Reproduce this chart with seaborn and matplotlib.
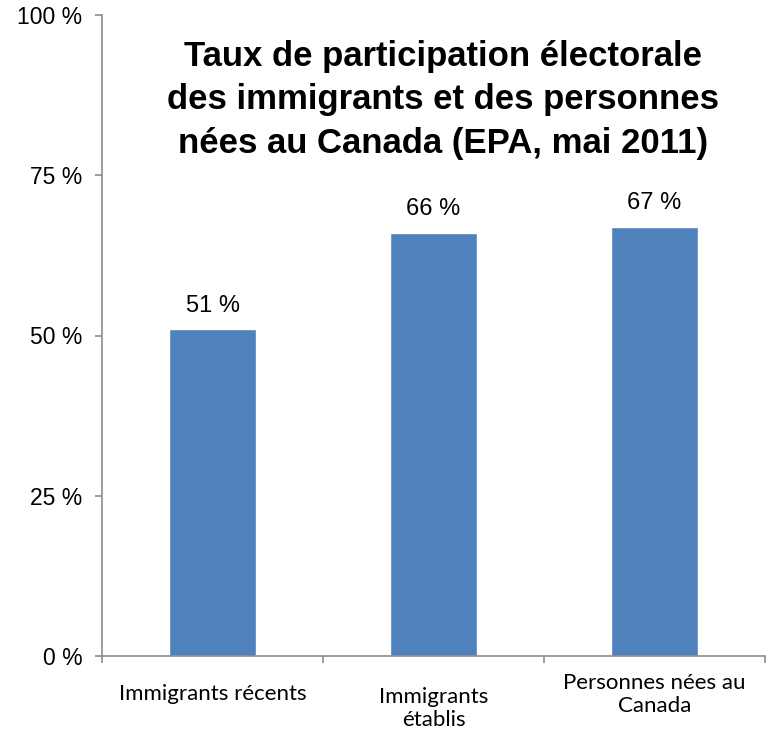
import numpy as np
import pandas as pd
import matplotlib.pyplot as plt
import matplotlib.transforms as mtrans
from matplotlib.ticker import FixedLocator, FuncFormatter
import seaborn as sns

#%%% data
categories = ['Immigrants récents', 'Immigrants\nétablis', 'Personnes nées au\nCanada']
taux = [51, 66, 67]
yticks = [0, 25, 50, 75, 100]
titre = 'Taux de participation électorale\ndes immigrants et des personnes\nnées au Canada (EPA, mai 2011)'

df = pd.DataFrame({'cat': categories, 'taux': taux})

#%%% plot
sns.set_style('white')
plt.rcParams['font.family'] = ['Liberation Sans', 'DejaVu Sans']
plt.rcParams['text.color'] = 'black'
plt.rcParams['xtick.labelcolor'] = 'black'
plt.rcParams['ytick.labelcolor'] = 'black'

fig = plt.figure(figsize=(7.67, 7.34), dpi=100)
ax = fig.add_axes([102/767, 1-656/734, 663/767, 641/734])

sns.barplot(data=df, x='cat', y='taux', color='#4F81BD', saturation=1,
            width=0.39, ax=ax)

ax.set_xlim(-0.5, 2.5)
ax.set_ylim(0, 100)
ax.set_yticks(yticks)
ax.yaxis.set_major_formatter(FuncFormatter(lambda v, p: f'{int(v)} %'))
ax.tick_params(axis='y', direction='out', length=5, width=1.2, color='#8c8c8c',
               labelsize=16.5, pad=9, left=True)
ax.set_xlabel('')
ax.set_ylabel('')

# x ticks between categories
ax.xaxis.set_minor_locator(FixedLocator([-0.5, 0.5, 1.5, 2.5]))
ax.tick_params(axis='x', which='minor', direction='out', length=5, width=1.2,
               color='#8c8c8c', bottom=True)
ax.tick_params(axis='x', which='major', length=0, pad=27)
for lab in ax.get_xticklabels():
    lab.set_fontfamily(['Lato', 'DejaVu Sans'])
    lab.set_fontsize(16)
    lab.set_verticalalignment('center')
    lab.set_linespacing(1.15)
offsets = [0, 15, 1]
for lab, dy in zip(ax.get_xticklabels(), offsets):
    lab.set_transform(lab.get_transform() +
                      mtrans.ScaledTranslation(0, -dy/100, fig.dpi_scale_trans))

for s in ['top', 'right']:
    ax.spines[s].set_visible(False)
for s in ['left', 'bottom']:
    ax.spines[s].set_color('#8c8c8c')
    ax.spines[s].set_linewidth(1.2)

# bar labels
for i, v in enumerate(taux):
    ax.annotate(f'{v} %', (i, v), xytext=(0, 9), textcoords='offset points',
                ha='center', va='bottom', fontsize=17)

fig.text(443/767, 1-100/734, titre, ha='center', va='center', fontsize=25,
         fontweight='bold', linespacing=1.42)

fig.savefig('out.png', dpi=100)
